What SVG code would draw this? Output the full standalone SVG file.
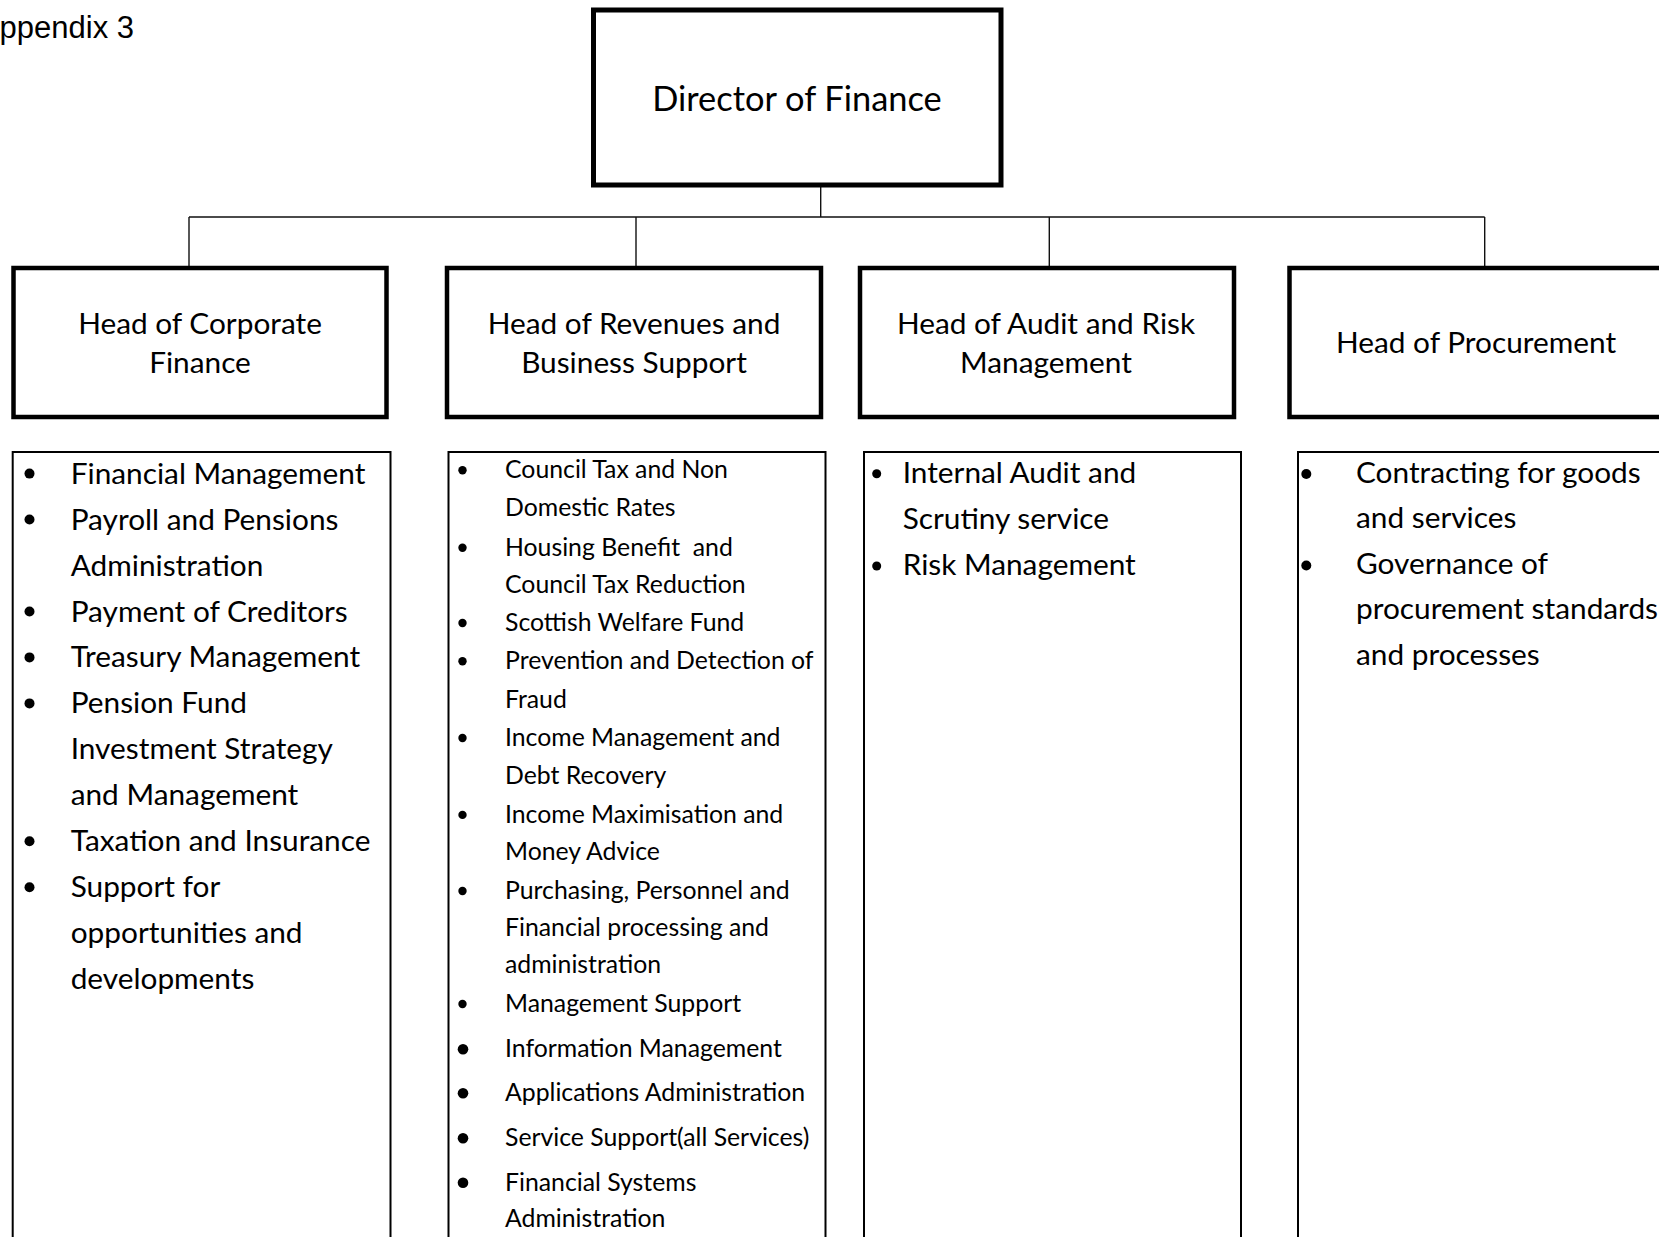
<svg xmlns="http://www.w3.org/2000/svg" width="1659" height="1237" viewBox="0 0 1659 1237">
<style>
text{font-family:Lato,"Open Sans","Noto Sans",sans-serif;fill:#000}
.app{font-family:"Liberation Sans",Arial,sans-serif;font-size:31px}
.dirt{font-size:34.4px;text-anchor:middle}
.ht{font-size:29.8px;text-anchor:middle}
.l1{font-size:29.8px}
.l2{font-size:24.8px}
.box{fill:#fff;stroke:#000;stroke-width:4.5}
.dbox{fill:#fff;stroke:#000;stroke-width:5}
.list{fill:#fff;stroke:#000;stroke-width:2}
.conn{fill:none;stroke:#111;stroke-width:1.4}
.b{fill:#000}
</style>
<rect width="1659" height="1237" fill="#fff"/>
<text class="app" x="134" y="37.5" text-anchor="end">Appendix 3</text>

<g id="connectors">
<path class="conn" d="M820.7 187 V217 M189 217 H1484.7 M189 217 V266 M636 217 V266 M1049.3 217 V266 M1484.7 217 V266"/>
</g>

<g id="director">
<rect class="dbox" x="593.5" y="10" width="407.5" height="175"/>
<text class="dirt" x="797" y="110.5">Director of Finance</text>
</g>

<g id="head-corporate-finance">
<rect class="box" x="13.5" y="268" width="373" height="149"/>
<text class="ht" x="200" y="334">Head of Corporate</text>
<text class="ht" x="200" y="372.5">Finance</text>
</g>

<g id="head-revenues">
<rect class="box" x="447" y="268" width="374" height="149"/>
<text class="ht" x="634" y="334">Head of Revenues and</text>
<text class="ht" x="634" y="372.5">Business Support</text>
</g>

<g id="head-audit">
<rect class="box" x="860" y="268" width="374" height="149"/>
<text class="ht" x="1046" y="334">Head of Audit and Risk</text>
<text class="ht" x="1046" y="372.5">Management</text>
</g>

<g id="head-procurement">
<rect class="box" x="1289.5" y="268" width="374" height="149"/>
<text class="ht" x="1476" y="353">Head of Procurement</text>
</g>

<g id="list-corporate-finance">
<rect class="list" x="12.7" y="452" width="377.8" height="800"/>
<g class="b">
<circle cx="29.5" cy="473.6" r="5"/>
<circle cx="29.5" cy="519.5" r="5"/>
<circle cx="29.5" cy="611.5" r="5"/>
<circle cx="29.5" cy="657.4" r="5"/>
<circle cx="29.5" cy="703.4" r="5"/>
<circle cx="29.5" cy="841.2" r="5"/>
<circle cx="29.5" cy="887.2" r="5"/>
</g>
<text class="l1" x="70.7" y="483.6">Financial Management</text>
<text class="l1" x="70.7" y="529.5">Payroll and Pensions</text>
<text class="l1" x="70.7" y="575.5">Administration</text>
<text class="l1" x="70.7" y="621.5">Payment of Creditors</text>
<text class="l1" x="70.7" y="667.4">Treasury Management</text>
<text class="l1" x="70.7" y="713.4">Pension Fund</text>
<text class="l1" x="70.7" y="759.3">Investment Strategy</text>
<text class="l1" x="70.7" y="805.3">and Management</text>
<text class="l1" x="70.7" y="851.2">Taxation and Insurance</text>
<text class="l1" x="70.7" y="897.2">Support for</text>
<text class="l1" x="70.7" y="943.1">opportunities and</text>
<text class="l1" x="70.7" y="989.1">developments</text>
</g>

<g id="list-revenues">
<rect class="list" x="448.5" y="452" width="377" height="800"/>
<g class="b">
<circle cx="462.5" cy="470.2" r="4.2"/>
<circle cx="462.5" cy="547.7" r="4.2"/>
<circle cx="462.5" cy="623" r="4.2"/>
<circle cx="462.5" cy="661.3" r="4.2"/>
<circle cx="462.5" cy="738" r="4.2"/>
<circle cx="462.5" cy="814.9" r="4.2"/>
<circle cx="462.5" cy="891" r="4.2"/>
<circle cx="462.5" cy="1004" r="4.2"/>
<circle cx="463" cy="1049.3" r="5.3"/>
<circle cx="463" cy="1093.3" r="5.3"/>
<circle cx="463" cy="1138.3" r="5.3"/>
<circle cx="463" cy="1182.8" r="5.3"/>
</g>
<text class="l2" x="505" y="478.2">Council Tax and Non</text>
<text class="l2" x="505" y="515.7">Domestic Rates</text>
<text class="l2" x="505" y="555.7" xml:space="preserve">Housing Benefit  and</text>
<text class="l2" x="505" y="592.5">Council Tax Reduction</text>
<text class="l2" x="505" y="631">Scottish Welfare Fund</text>
<text class="l2" x="505" y="669.3">Prevention and Detection of</text>
<text class="l2" x="505" y="707.5">Fraud</text>
<text class="l2" x="505" y="746">Income Management and</text>
<text class="l2" x="505" y="783.6">Debt Recovery</text>
<text class="l2" x="505" y="822.9">Income Maximisation and</text>
<text class="l2" x="505" y="860.4">Money Advice</text>
<text class="l2" x="505" y="899">Purchasing, Personnel and</text>
<text class="l2" x="505" y="936.4">Financial processing and</text>
<text class="l2" x="505" y="973">administration</text>
<text class="l2" x="505" y="1012">Management Support</text>
<text class="l2" x="505" y="1057">Information Management</text>
<text class="l2" x="505" y="1101">Applications Administration</text>
<text class="l2" x="505" y="1146">Service Support(all Services)</text>
<text class="l2" x="505" y="1190.5">Financial Systems</text>
<text class="l2" x="505" y="1227">Administration</text>
</g>

<g id="list-audit">
<rect class="list" x="864" y="452" width="377" height="800"/>
<g class="b">
<circle cx="876.7" cy="473.7" r="4.5"/>
<circle cx="876.7" cy="566" r="4.5"/>
</g>
<text class="l1" x="902.7" y="482.7">Internal Audit and</text>
<text class="l1" x="902.7" y="529">Scrutiny service</text>
<text class="l1" x="902.7" y="575">Risk Management</text>
</g>

<g id="list-procurement">
<rect class="list" x="1298" y="452" width="378" height="800"/>
<g class="b">
<circle cx="1306.3" cy="474" r="5"/>
<circle cx="1306.3" cy="565.5" r="5"/>
</g>
<text class="l1" x="1356" y="482.5">Contracting for goods</text>
<text class="l1" x="1356" y="528">and services</text>
<text class="l1" x="1356" y="573.5">Governance of</text>
<text class="l1" x="1356" y="619">procurement standards</text>
<text class="l1" x="1356" y="664.5">and processes</text>
</g>
</svg>
